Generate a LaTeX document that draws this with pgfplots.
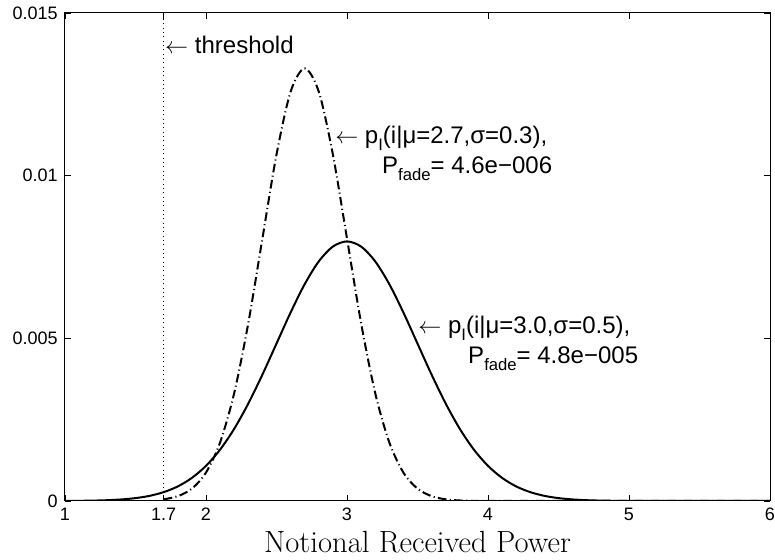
\documentclass[border=0pt]{standalone}
\usepackage{fontspec}
\usepackage{pgfplots}
\pgfplotsset{compat=1.18}
\usetikzlibrary{calc}
\newfontfamily\helv{Liberation Sans}
\newcommand{\subs}[1]{\raisebox{-0.55ex}{\fontsize{12.5}{14}\selectfont #1}}
\newcommand{\larr}{$\leftarrow$}

\begin{document}
\begin{tikzpicture}
\begin{axis}[
    name=main,
    scale only axis,
    width=528.75pt, height=366pt,
    xmin=1, xmax=6, ymin=0, ymax=0.015,
    xtick={1,1.7,2,3,4,5,6},
    xticklabels={1,1.7,2,3,4,5,6},
    ytick={0,0.005,0.01,0.015},
    yticklabels={0,0.005,0.01,0.015},
    scaled ticks=false,
    tick align=inside, tick pos=both,
    major tick length=4.5pt,
    axis line style={line width=0.75pt},
    every tick/.style={black, line width=0.6pt},
    tick label style={font=\helv\fontsize{13.5}{15}\selectfont},
    /pgf/number format/assume math mode=true,
    xticklabel style={yshift=-1.5pt},
    yticklabel style={xshift=-2pt},
    xlabel={Notional Received Power},
    xlabel style={font=\fontsize{23}{27}\selectfont, inner sep=0pt,
      at={(axis description cs:0.5,0)}, anchor=base, yshift=-39pt},
  ]
  % threshold
  \addplot[black, line width=0.6pt, dash pattern=on 0.75pt off 2.5pt] coordinates {(1.7,0) (1.7,0.015)};

  % p_I(i|mu=3.0, sigma=0.5)
  \addplot[black, line width=1.5pt, smooth] coordinates {
    (1.0,0.0000027) (1.1,0.0000058) (1.2,0.0000122) (1.3,0.0000246)
    (1.4,0.0000477) (1.5,0.0000887) (1.6,0.000158) (1.7,0.000272)
    (1.8,0.000448) (1.9,0.000710) (2.0,0.001080) (2.1,0.001579)
    (2.2,0.002218) (2.3,0.002995) (2.4,0.003884) (2.5,0.004839)
    (2.6,0.005794) (2.7,0.006665) (2.8,0.007366) (2.9,0.007821)
    (3.0,0.007979) (3.1,0.007821) (3.2,0.007366) (3.3,0.006665)
    (3.4,0.005794) (3.5,0.004839) (3.6,0.003884) (3.7,0.002995)
    (3.8,0.002218) (3.9,0.001579) (4.0,0.001080) (4.1,0.000710)
    (4.2,0.000448) (4.3,0.000272) (4.4,0.000158) (4.5,0.0000887)
    (4.6,0.0000477) (4.7,0.0000246) (4.8,0.0000122) (4.9,0.0000058)
    (5.0,0.0000027) (5.2,0.0000005) (5.5,0) (6.0,0)
  };

  % p_I(i|mu=2.7, sigma=0.3)
  \addplot[black, line width=1.5pt, smooth,
    dash pattern=on 6.5pt off 2.5pt on 0.8pt off 2.5pt] coordinates {
    (1.7,0.0000514) (1.8,0.000148) (1.9,0.000380) (2.0,0.000874)
    (2.1,0.001800) (2.2,0.003316) (2.3,0.005467) (2.4,0.008066)
    (2.5,0.010648) (2.6,0.012579) (2.7,0.013298) (2.8,0.012579)
    (2.9,0.010648) (3.0,0.008066) (3.1,0.005467) (3.2,0.003316)
    (3.3,0.001800) (3.4,0.000874) (3.5,0.000380) (3.6,0.000148)
    (3.7,0.0000514) (3.8,0.0000160) (3.9,0.0000045) (4.0,0.0000011)
    (4.5,0) (6.0,0)
  };

  \begin{scope}[every node/.style={font=\helv\fontsize{18}{21}\selectfont, inner sep=0pt}]
    \node[anchor=base west] at (axis cs:1.709,0.01377) {\larr\ threshold};
    \node[anchor=base west] at (axis cs:2.915,0.01100) {\larr\ p\subs{I}(i|μ=2.7,σ=0.3),};
    \node[anchor=base west] at (axis cs:3.248,0.01008) {P\subs{fade}= 4.6e−006};
    \node[anchor=base west] at (axis cs:3.504,0.00516) {\larr\ p\subs{I}(i|μ=3.0,σ=0.5),};
    \node[anchor=base west] at (axis cs:3.858,0.00424) {P\subs{fade}= 4.8e−005};
  \end{scope}
\end{axis}
\pgfresetboundingbox
\path[use as bounding box] ($(main.south west)+(-48.75pt,-44.25pt)$) rectangle ($(main.north east)+(3.75pt,9.75pt)$);
\end{tikzpicture}
\end{document}
